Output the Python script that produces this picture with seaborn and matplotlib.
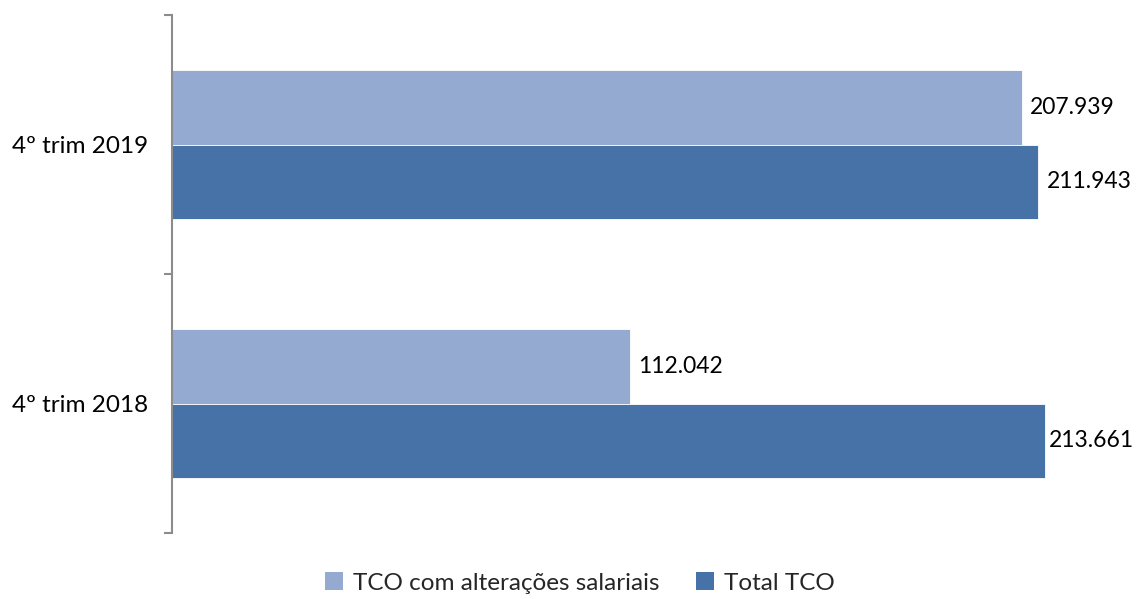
import matplotlib
matplotlib.use("Agg")
import matplotlib.pyplot as plt
import seaborn as sns
import pandas as pd
from matplotlib.patches import Patch

categories = ["4º trim 2019", "4º trim 2018"]
series_names = ["TCO com alterações salariais", "Total TCO"]
tco_alteracoes = [207939, 112042]
total_tco = [211943, 213661]
colors = ["#95AAD1", "#4672A8"]

df = pd.DataFrame({
    "cat": categories * 2,
    "serie": [series_names[0]] * 2 + [series_names[1]] * 2,
    "valor": tco_alteracoes + total_tco,
})

sns.set_theme(style="white")
plt.rcParams["font.family"] = ["Lato", "DejaVu Sans"]

W, H = 1137, 599
fig = plt.figure(figsize=(W / 100, H / 100), dpi=100)
ax = fig.add_axes([172 / W, (H - 533) / H, 940 / W, 518 / H])

sns.barplot(data=df, y="cat", x="valor", hue="serie", order=categories,
            hue_order=series_names, palette=colors, orient="h", width=0.574,
            saturation=1, edgecolor="white", linewidth=0.6, ax=ax, legend=False)

ax.set_xlim(0, 230000)
ax.set_ylim(1.5, -0.5)
ax.set_xlabel("")
ax.set_ylabel("")
ax.set_xticks([])
for s in ["top", "right", "bottom"]:
    ax.spines[s].set_visible(False)
ax.spines["left"].set_color("#8C8C8C")
ax.spines["left"].set_linewidth(1.5)

ax.set_yticks([0, 1])
ax.set_yticklabels(categories, fontsize=17.5, color="#000000")
ax.tick_params(axis="y", which="major", length=0, pad=17)
ax.set_yticks([-0.5, 0.5, 1.5], minor=True)
ax.tick_params(axis="y", which="minor", length=6, width=1.5, color="#8C8C8C", left=True)

texts = []
for cont in ax.containers:
    for bar in cont:
        v = bar.get_width()
        y = bar.get_y() + bar.get_height() / 2
        t = ax.annotate(f"{int(round(v)):,}".replace(",", "."), xy=(v, y),
                        xytext=(6, 0), textcoords="offset points",
                        ha="left", va="center", fontsize=16.5, color="#000000")
        texts.append(t)

fig.canvas.draw()
r = fig.canvas.get_renderer()
for t in texts:
    bb = t.get_window_extent(r)
    if bb.x1 > W - 3:
        dx = (bb.x1 - (W - 3)) * 72 / 100
        ox, oy = t.xyann
        t.xyann = (ox - dx, oy)

handles = [Patch(facecolor=c, edgecolor="none") for c in colors]
fig.legend(handles, series_names, loc="center", bbox_to_anchor=(580 / W, (H - 583) / H),
           ncol=2, frameon=False, fontsize=17.5, handlelength=0.75, handleheight=0.75,
           handletextpad=0.4, columnspacing=1.5)

fig.savefig("out.png", dpi=100)
